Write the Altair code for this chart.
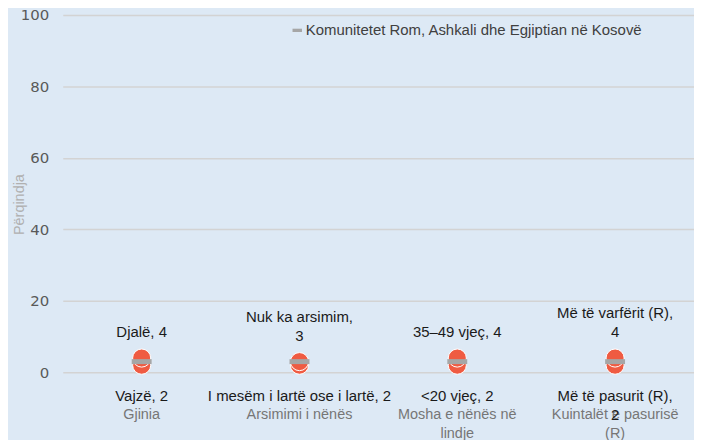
import altair as alt
import pandas as pd

categories = ["Gjinia", "Arsimimi i nënës", "Mosha e nënës në lindje", "Kuintalët e pasurisë (R)"]
category_lines = {
    "Mosha e nënës në lindje": ["Mosha e nënës në", "lindje"],
    "Kuintalët e pasurisë (R)": ["Kuintalët e pasurisë", "(R)"],
}
high_labels = [["Djalë, 4"], ["Nuk ka arsimim,", "3"], ["35–49 vjeç, 4"], ["Më të varfërit (R),", "4"]]
high_values = [4, 3, 4, 4]
low_labels = [["Vajzë, 2"], ["I mesëm i lartë ose i lartë, 2"], ["<20 vjeç, 2"], ["Më të pasurit (R),", "2"]]
low_values = [2, 2, 2, 2]
national_name = "Komunitetet Rom, Ashkali dhe Egjiptian në Kosovë"
national_values = [3, 3, 3, 3]

BG = "#DDE9F5"
RED = "#EF5B42"
GRAY = "#A6A6A6"
FONT = "Liberation Sans"

high_df = pd.DataFrame({
    "cat": categories, "v": high_values,
    "lab": ["\n".join(l) for l in high_labels],
    "n": [len(l) for l in high_labels],
})
low_df = pd.DataFrame({"cat": categories, "v": low_values, "lab": ["\n".join(l) for l in low_labels]})
nat_df = pd.DataFrame({"cat": categories, "v": national_values, "series": [national_name] * 4})

label_expr = "datum.label"
for k, lines in category_lines.items():
    arr = "[" + ",".join("'" + s + "'" for s in lines) + "]"
    label_expr = f"datum.label == '{k}' ? {arr} : ({label_expr})"

x_enc = alt.X(
    "cat:N",
    sort=categories,
    scale=alt.Scale(domain=categories, paddingInner=0, paddingOuter=0),
    axis=alt.Axis(
        title=None, labelAngle=0, domain=False, ticks=False, labelPadding=35,
        labelFont=FONT, labelFontSize=14.5, labelColor="#767676", labelExpr=label_expr,
        labelLineHeight=19, labelBaseline="top",
    ),
)
y_scale = alt.Scale(domain=[0, 100], nice=False)
y_enc = alt.Y(
    "v:Q",
    scale=y_scale,
    axis=alt.Axis(
        values=[0, 20, 40, 60, 80, 100], title="Përqindja", domain=False, ticks=False,
        grid=True, gridColor="#D3D3D3", gridWidth=1.5, labelPadding=14,
        labelFont="DejaVu Sans", labelFontSize=15, labelColor="#595959",
        titleFont=FONT, titleFontSize=14.5, titleColor="#B0B0B0", titleFontWeight="normal",
        titleX=-43, titleY=190, titleAngle=-90, titleAlign="center", titleBaseline="middle",
    ),
)

low_pts = alt.Chart(low_df).mark_circle(size=330, color=RED, opacity=1, stroke="white", strokeWidth=1).encode(x=x_enc, y=y_enc)
high_pts = alt.Chart(high_df).mark_circle(size=330, color=RED, opacity=1, stroke="white", strokeWidth=1).encode(x=x_enc, y="v:Q")
nat = alt.Chart(nat_df).mark_tick(size=20, thickness=5, opacity=1).encode(
    x=x_enc, y="v:Q",
    color=alt.Color(
        "series:N",
        scale=alt.Scale(range=[GRAY]),
        legend=alt.Legend(
            title=None, orient="none", legendX=228, legendY=8,
            symbolType="M-1,-0.35L1,-0.35L1,0.35L-1,0.35Z", symbolSize=90,
            symbolFillColor=GRAY, symbolStrokeWidth=0,
            labelFont=FONT, labelFontSize=15, labelColor="#404040", labelOffset=1, labelLimit=500,
        ),
    ),
)
high_txt1 = alt.Chart(high_df).transform_filter("datum.n == 1").mark_text(
    font=FONT, fontSize=15, color="#1A1A1A", baseline="bottom", dy=-18, lineBreak="\n", lineHeight=19
).encode(x=x_enc, y="v:Q", text="lab:N")
high_txt2 = alt.Chart(high_df).transform_filter("datum.n == 2").mark_text(
    font=FONT, fontSize=15, color="#1A1A1A", baseline="bottom", dy=-37, lineBreak="\n", lineHeight=19
).encode(x=x_enc, y="v:Q", text="lab:N")
low_txt = alt.Chart(low_df).mark_text(
    font=FONT, fontSize=15, color="#1A1A1A", baseline="top", dy=24, lineBreak="\n", lineHeight=19
).encode(x=x_enc, y="v:Q", text="lab:N")

chart = alt.layer(low_pts, high_pts, nat, high_txt1, high_txt2, low_txt).properties(
    width=634, height=359,
    autosize=alt.AutoSizeParams(type="none"),
    padding={"left": 55, "top": 6, "right": 0, "bottom": 67},
    background=BG,
).configure_view(stroke=None)

chart.save("out.html", embed_options={"renderer": "svg", "actions": False})
